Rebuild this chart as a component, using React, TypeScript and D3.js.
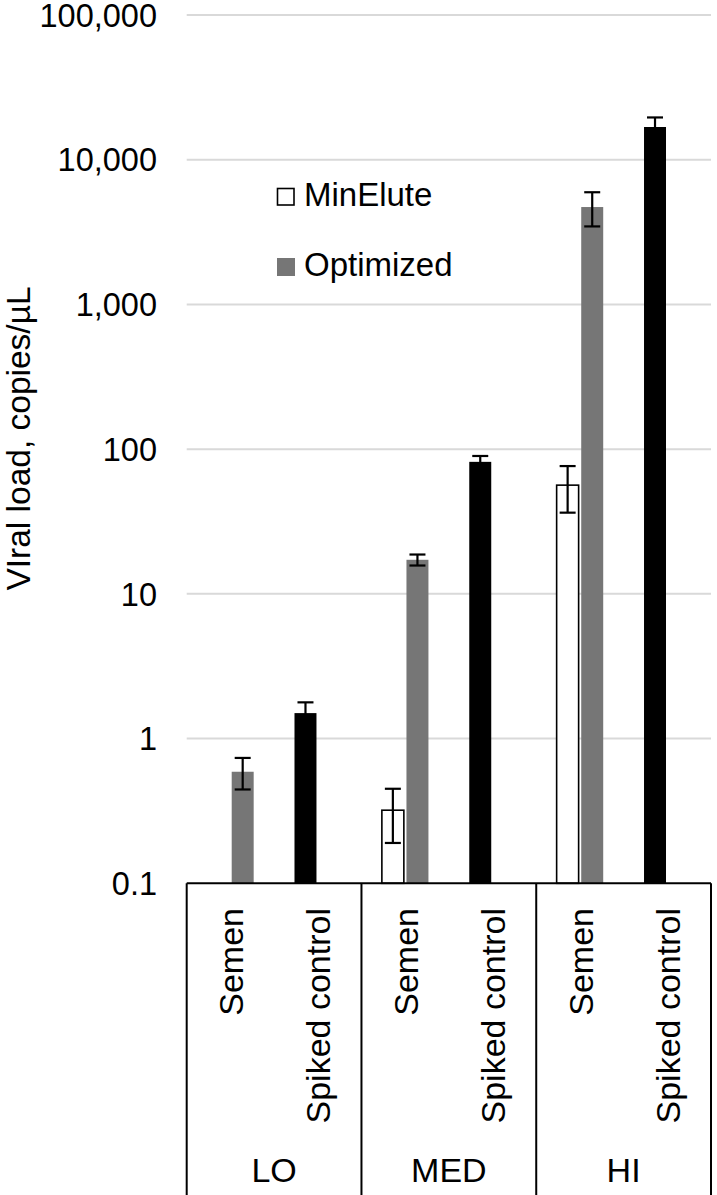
import React from "react";
import * as d3 from "d3";

const groups = ["LO", "MED", "HI"];
const sampleTypes = ["Semen", "Spiked control"];
const seriesNames = ["MinElute", "Optimized"];

// Semen samples, per group
const minEluteValues: (number | null)[] = [null, 0.32, 56.4];
const minEluteErrors: (number | null)[] = [null, 0.13, 20];
const optimizedValues: number[] = [0.59, 17.2, 4710];
const optimizedErrors: number[] = [0.145, 1.5, 1250];
// Spiked control, per group
const spikedValues: number[] = [1.5, 81.7, 16830];
const spikedErrors: number[] = [0.28, 8, 2760];

const tickValues = [0.1, 1, 10, 100, 1000, 10000, 100000];
const tickLabels = ["0.1", "1", "10", "100", "1,000", "10,000", "100,000"];

const W = 717;
const H = 1195;
const FONT = "'Liberation Sans', Arial, sans-serif";

export default function App() {
  const left = 186.7;
  const right = 711;
  const y = d3.scaleLog().domain([0.1, 100000]).range([883.3, 15]);
  const xGroup = d3.scaleBand<string>().domain(groups).range([left, right]).padding(0);
  const xSlot = d3.scaleBand<string>().domain(sampleTypes).range([0, xGroup.bandwidth()]).padding(0);
  const xPos = d3
    .scaleBand<string>()
    .domain(["p0", "p1"])
    .range([0, xSlot.bandwidth()])
    .paddingInner(0.106)
    .paddingOuter(0.83);
  const bw = xPos.bandwidth();
  const base = y(0.1);
  const cap = 8;

  type Bar = { x: number; v: number; e: number | null; fill: string; stroke?: string; key: string };
  const bars: Bar[] = [];
  groups.forEach((g, i) => {
    const gx = xGroup(g)!;
    const semenX = gx + xSlot("Semen")!;
    const spikedX = gx + xSlot("Spiked control")!;
    const mv = minEluteValues[i];
    if (mv != null) {
      bars.push({ x: semenX + xPos("p0")!, v: mv, e: minEluteErrors[i], fill: "#ffffff", stroke: "#000", key: g + "m" });
    }
    bars.push({ x: semenX + xPos("p1")!, v: optimizedValues[i], e: optimizedErrors[i], fill: "#767676", key: g + "o" });
    bars.push({ x: spikedX + xPos("p0")!, v: spikedValues[i], e: spikedErrors[i], fill: "#000000", key: g + "s" });
  });

  const catLabels: { x: number; text: string; key: string }[] = [];
  groups.forEach((g) => {
    sampleTypes.forEach((s) => {
      catLabels.push({ x: xGroup(g)! + xSlot(s)! + xSlot.bandwidth() / 2, text: s, key: g + s });
    });
  });

  return (
    <svg
      width={W}
      height={H}
      style={{ position: "absolute", left: 0, top: 0, display: "block", background: "#fff" }}
      fontFamily={FONT}
    >
      <rect x={0} y={0} width={W} height={H} fill="#fff" />
      {/* gridlines */}
      {tickValues.slice(1).map((t) => (
        <line key={t} x1={left} x2={right} y1={y(t)} y2={y(t)} stroke="#d9d9d9" strokeWidth={2} />
      ))}
      {/* tick labels */}
      {tickValues.map((t, i) => (
        <text key={t} x={157} y={y(t)} dy="0.36em" textAnchor="end" fontSize={32.5} fill="#000">
          {tickLabels[i]}
        </text>
      ))}
      {/* bars */}
      {bars.map((b) => (
        <g key={b.key}>
          <rect
            x={b.x}
            y={y(b.v)}
            width={bw}
            height={base - y(b.v)}
            fill={b.fill}
            stroke={b.stroke ?? "none"}
            strokeWidth={b.stroke ? 1.6 : 0}
          />
        </g>
      ))}
      {/* error bars */}
      {bars.map((b) => {
        if (b.e == null) return null;
        const cx = b.x + bw / 2;
        const yt = y(b.v + b.e);
        const yb = y(Math.max(b.v - b.e, 0.1001));
        return (
          <g key={b.key + "e"} stroke="#000" strokeWidth={2.2}>
            <line x1={cx} x2={cx} y1={yt} y2={yb} />
            <line x1={cx - cap} x2={cx + cap} y1={yt} y2={yt} />
            <line x1={cx - cap} x2={cx + cap} y1={yb} y2={yb} />
          </g>
        );
      })}
      {/* axis line */}
      <line x1={left} x2={right} y1={base} y2={base} stroke="#000" strokeWidth={2} />
      {/* group separators */}
      {[...groups.map((g) => xGroup(g)!), right].map((x, i) => (
        <line key={i} x1={x} x2={x} y1={base} y2={H} stroke="#000" strokeWidth={2} />
      ))}
      {/* category labels */}
      {catLabels.map((c) => (
        <text
          key={c.key}
          transform={`translate(${c.x + 12.7},908) rotate(-90)`}
          textAnchor="end"
          fontSize={34}
          fill="#000"
        >
          {c.text}
        </text>
      ))}
      {/* group labels */}
      {groups.map((g) => (
        <text key={g} x={xGroup(g)! + xGroup.bandwidth() / 2} y={1182} textAnchor="middle" fontSize={34} fill="#000">
          {g}
        </text>
      ))}
      {/* y axis title */}
      <text transform="translate(30,438.5) rotate(-90)" textAnchor="middle" fontSize={33.5} fill="#000">
        VIral load, copies/µL
      </text>
      {/* legend */}
      <rect x={277.5} y={188.5} width={16.5} height={16.5} fill="#fff" stroke="#000" strokeWidth={1.6} />
      <text x={304} y={206} fontSize={33} fill="#000">
        {seriesNames[0]}
      </text>
      <rect x={277} y={258} width={18} height={18} fill="#767676" />
      <text x={304} y={276} fontSize={33} fill="#000">
        {seriesNames[1]}
      </text>
    </svg>
  );
}
